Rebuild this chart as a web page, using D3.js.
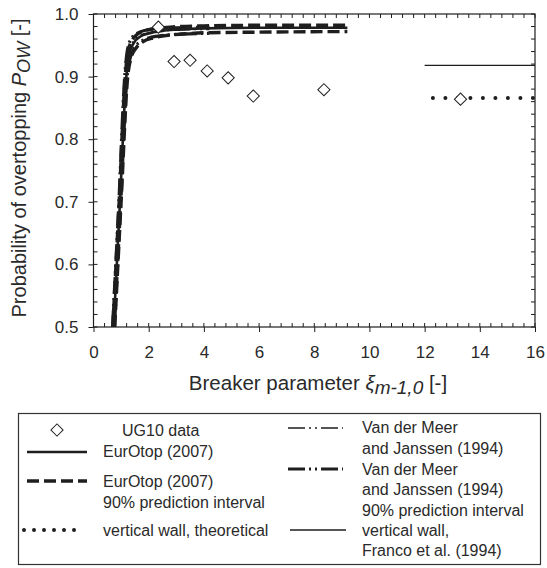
<!DOCTYPE html>
<html><head><meta charset="utf-8">
<script src="https://cdn.jsdelivr.net/npm/d3@7"></script>
<style>
body{margin:0;background:#fff;}
svg text{font-family:Arial,"Liberation Sans",sans-serif;fill:#2a2a2a;}
</style></head>
<body><svg id="c" width="547" height="568"></svg>
<script>
// ---- data ----
const ugX = [2.35, 2.92, 3.5, 4.12, 4.88, 5.79, 8.35, 13.3];
const ugY = [0.979, 0.924, 0.926, 0.909, 0.898, 0.869, 0.879, 0.864];

const eurMeanX = [0.73, 0.96, 1.19, 1.3, 1.45, 1.7, 2.0, 2.5, 3.0, 4.0, 6.0, 9.2];
const eurMeanY = [0.5, 0.7, 0.9, 0.935, 0.953, 0.964, 0.969, 0.973, 0.975, 0.977, 0.978, 0.978];
const eurUpX = [0.70, 0.93, 1.15, 1.25, 1.4, 1.6, 2.0, 2.5, 3.0, 4.0, 6.0, 9.2];
const eurUpY = [0.5, 0.7, 0.9, 0.94, 0.958, 0.968, 0.975, 0.978, 0.980, 0.981, 0.982, 0.982];
const eurLoX = [0.77, 1.0, 1.24, 1.36, 1.55, 1.8, 2.2, 2.7, 3.2, 4.0, 6.0, 9.2];
const eurLoY = [0.5, 0.7, 0.9, 0.93, 0.946, 0.956, 0.962, 0.966, 0.968, 0.970, 0.971, 0.972];

const vdmMeanX = [0.72, 0.95, 1.17, 1.27, 1.42, 1.65, 2.0, 2.5, 3.0, 3.6, 4.2];
const vdmMeanY = [0.5, 0.7, 0.9, 0.937, 0.955, 0.965, 0.970, 0.973, 0.974, 0.975, 0.975];
const vdmUpX = [0.69, 0.92, 1.13, 1.22, 1.36, 1.58, 2.0, 2.5, 3.0, 4.2];
const vdmUpY = [0.5, 0.7, 0.9, 0.94, 0.96, 0.969, 0.975, 0.977, 0.978, 0.979];
const vdmLoX = [0.76, 0.99, 1.22, 1.33, 1.5, 1.75, 2.1, 2.6, 3.2, 4.2];
const vdmLoY = [0.5, 0.7, 0.9, 0.93, 0.947, 0.957, 0.963, 0.966, 0.968, 0.969];

const wallTheoX = [12.3, 16];
const wallTheoY = [0.866, 0.866];
const francoX = [12.0, 16];
const francoY = [0.918, 0.918];

const xTicks = [0, 2, 4, 6, 8, 10, 12, 14, 16];
const yTicks = [0.5, 0.6, 0.7, 0.8, 0.9, 1.0];

// ---- layout ----
const svg = d3.select("#c");
const L = 93.5, R = 535, T = 14, B = 327;
const x = d3.scaleLinear().domain([0, 16]).range([L, R]);
const y = d3.scaleLinear().domain([0.5, 1.0]).range([B, T]);
const ink = "#1e1e1e";

// frame
svg.append("rect").attr("x", L).attr("y", T).attr("width", R - L).attr("height", B - T)
  .attr("fill", "none").attr("stroke", ink).attr("stroke-width", 1.2);

// minor ticks
const xMinor = d3.range(0, 16.001, 0.4);
const yMinor = d3.range(0.5, 1.0001, 0.02);
const tg = svg.append("g").attr("stroke", ink).attr("stroke-width", 1);
xMinor.forEach(v => {
  tg.append("line").attr("x1", x(v)).attr("x2", x(v)).attr("y1", B).attr("y2", B - 4);
  tg.append("line").attr("x1", x(v)).attr("x2", x(v)).attr("y1", T).attr("y2", T + 4);
});
yMinor.forEach(v => {
  tg.append("line").attr("y1", y(v)).attr("y2", y(v)).attr("x1", L).attr("x2", L + 4);
  tg.append("line").attr("y1", y(v)).attr("y2", y(v)).attr("x1", R).attr("x2", R - 4);
});

// axes (major ticks outward)
const xAxis = d3.axisBottom(x).tickValues(xTicks).tickSize(5).tickPadding(14).tickFormat(d3.format("d"));
const gx = svg.append("g").attr("transform", `translate(0,${B})`).call(xAxis);
gx.select(".domain").remove();
gx.selectAll("line").attr("stroke", ink);
gx.selectAll("text").style("font-size", "17px").attr("fill", "#2a2a2a");

const yAxis = d3.axisLeft(y).tickValues(yTicks).tickSize(5).tickPadding(10).tickFormat(d3.format(".1f"));
const gy = svg.append("g").attr("transform", `translate(${L},0)`).call(yAxis);
gy.select(".domain").remove();
gy.selectAll("line").attr("stroke", ink);
gy.selectAll("text").style("font-size", "17px").attr("fill", "#2a2a2a");

// axis titles
const xt = svg.append("text").attr("x", 318).attr("y", 390).attr("text-anchor", "middle").style("font-size", "20.5px");
xt.append("tspan").text("Breaker parameter ");
xt.append("tspan").attr("font-style", "italic").text("ξ");
xt.append("tspan").attr("font-style", "italic").attr("dy", 4).style("font-size", "19px").text("m-1,0");
xt.append("tspan").attr("dy", -4).text(" [-]");

const yt = svg.append("text").attr("transform", "translate(26,168) rotate(-90)").attr("text-anchor", "middle").style("font-size", "20px");
yt.append("tspan").text("Probability of overtopping ");
yt.append("tspan").attr("font-style", "italic").text("P");
yt.append("tspan").attr("font-style", "italic").attr("dy", 4).style("font-size", "18px").text("OW");
yt.append("tspan").attr("dy", -4).text(" [-]");

// lines
const line = d3.line().x(d => x(d[0])).y(d => y(d[1])).curve(d3.curveMonotoneX);
const zip = (a, b) => a.map((v, i) => [v, b[i]]);
const styles = {
  eurMean: {w: 2.6, dash: null},
  eurPI: {w: 3.4, dash: "12,5"},
  vdmMean: {w: 1.4, dash: "17,4,2,4,2,4"},
  vdmPI: {w: 3.2, dash: "17,4,2,4,2,4"},
  wall: {w: 4, dash: "0,12.5"},
  wallLeg: {w: 4, dash: "0,10"},
  franco: {w: 1.3, dash: null}
};
const plotG = svg.append("g");
function draw(xs, ys, st, cap) {
  plotG.append("path").datum(zip(xs, ys)).attr("d", line)
    .attr("fill", "none").attr("stroke", ink).attr("stroke-width", st.w)
    .attr("stroke-dasharray", st.dash).attr("stroke-linecap", cap || "butt");
}
draw(vdmUpX, vdmUpY, styles.vdmPI);
draw(vdmLoX, vdmLoY, styles.vdmPI);
draw(vdmMeanX, vdmMeanY, styles.vdmMean);
draw(eurUpX, eurUpY, styles.eurPI);
draw(eurLoX, eurLoY, styles.eurPI);
draw(eurMeanX, eurMeanY, styles.eurMean);
draw(francoX, francoY, styles.franco);
draw(wallTheoX, wallTheoY, styles.wall, "round");

// diamonds
const diamond = d3.symbol().type(d3.symbolSquare).size(74);
plotG.selectAll(".ug").data(zip(ugX, ugY)).join("path")
  .attr("d", diamond)
  .attr("transform", d => `translate(${x(d[0])},${y(d[1])}) rotate(45)`)
  .attr("fill", "#fff").attr("stroke", ink).attr("stroke-width", 1);

// legend
const lg = svg.append("g");
lg.append("rect").attr("x", 18.5).attr("y", 413.5).attr("width", 522).attr("height", 151)
  .attr("fill", "none").attr("stroke", "#333").attr("stroke-width", 1.2);
const fs = "16px";
function ltext(tx, ty, s) {
  lg.append("text").attr("x", tx).attr("y", ty).attr("dy", "0.35em").style("font-size", fs).text(s);
}
function lline(x1, x2, ly, st, cap) {
  lg.append("line").attr("x1", x1).attr("x2", x2).attr("y1", ly).attr("y2", ly)
    .attr("stroke", ink).attr("stroke-width", st.w).attr("stroke-dasharray", st.dash)
    .attr("stroke-linecap", cap || "butt");
}
lg.append("path").attr("d", diamond).attr("transform", "translate(57,430) rotate(45)")
  .attr("fill", "#fff").attr("stroke", ink).attr("stroke-width", 1);
ltext(122, 430, "UG10 data");
lline(27, 87, 452, styles.eurMean); ltext(103, 451, "EurOtop (2007)");
lline(27, 87, 481, styles.eurPI); ltext(103, 481, "EurOtop (2007)");
ltext(103, 502, "90% prediction interval");
lline(24, 84, 530, styles.wallLeg, "round"); ltext(103, 530, "vertical wall, theoretical");

lline(288, 343, 428, styles.vdmMean); ltext(362, 427, "Van der Meer");
ltext(362, 448, "and Janssen (1994)");
lline(288, 343, 469, styles.vdmPI); ltext(362, 469, "Van der Meer");
ltext(362, 489, "and Janssen (1994)");
ltext(362, 510, "90% prediction interval");
lline(290, 346, 530, styles.franco); ltext(362, 530, "vertical wall,");
ltext(362, 550, "Franco et al. (1994)");
</script></body></html>
